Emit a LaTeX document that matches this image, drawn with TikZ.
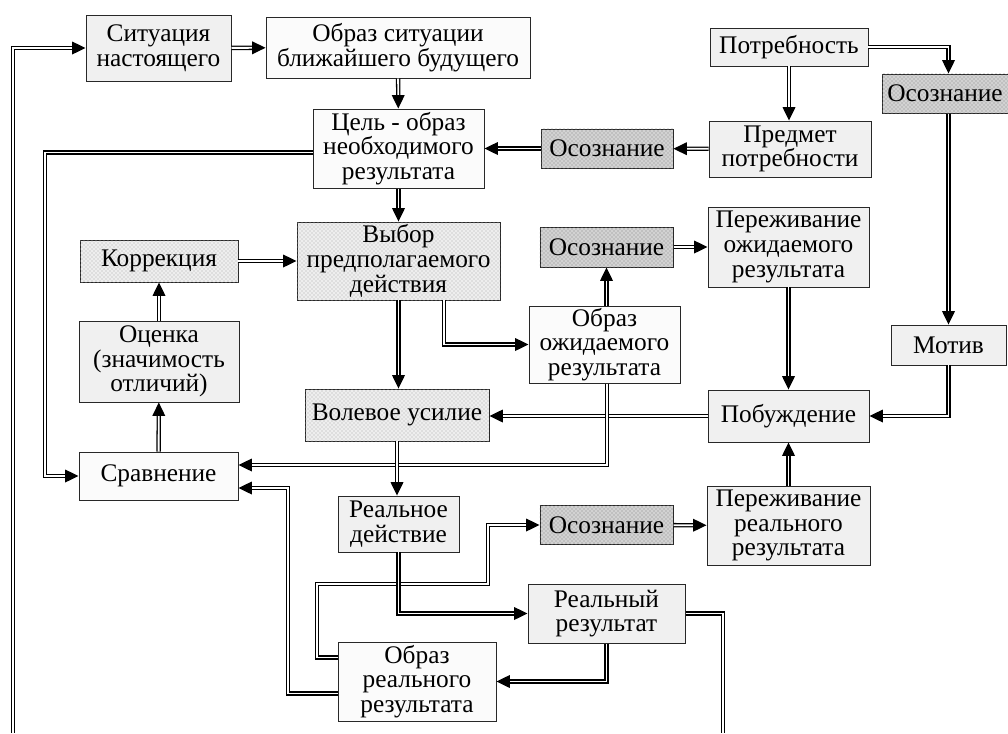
\documentclass[tikz,border=0pt]{standalone}
\usepackage{fontspec}
\setmainfont{Liberation Serif}
\usepackage{tikz}
\usetikzlibrary{arrows.meta}
\usetikzlibrary{patterns}

\tikzset{
  box/.style={draw={rgb, 255:red, 40; green, 40; blue, 40}, line width=0.7pt, align=center, inner sep=1pt, font=\fontsize{19}{18.5}\selectfont},
  wbox/.style={box, fill={rgb, 255:red, 251; green, 251; blue, 251}},
  gbox/.style={box, fill={rgb, 255:red, 240; green, 240; blue, 240}},
  pbox/.style={box, fill={rgb, 255:red, 238; green, 238; blue, 238}, postaction={pattern=crosshatch dots, pattern color={rgb, 255:red, 170; green, 170; blue, 170}}},
  obox/.style={box, fill={rgb, 255:red, 210; green, 210; blue, 210}, postaction={pattern=crosshatch dots, pattern color={rgb, 255:red, 135; green, 135; blue, 135}}},
  dbl/.style={double, double distance=1.4pt, line width=0.95pt, -{Triangle[length=10pt,width=9.5pt]}},
}

\begin{document}
\begin{tikzpicture}[x=0.75pt,y=0.75pt,yscale=-1,xscale=1]
\useasboundingbox (0,0) rectangle (1008,733);

% Text Nodes
\node[gbox, minimum width=108.8pt, minimum height=49.5pt] (sit) at (158.5,48) {Ситуация\\настоящего};
\node[wbox, minimum width=198pt, minimum height=45.8pt] (obrsit) at (398,47.5) {Образ ситуации\\ближайшего будущего};
\node[gbox, minimum width=118.5pt, minimum height=28.5pt] (potr) at (789,47) {Потребность};
\node[obox, minimum width=94.5pt, minimum height=29.3pt] (osozA) at (945,93.5) {Осознание};
\node[gbox, minimum width=121.5pt, minimum height=42pt] (predm) at (790,149) {Предмет\\потребности};
\node[obox, minimum width=99pt, minimum height=29.3pt] (osozB) at (607,148.5) {Осознание};
\node[wbox, minimum width=128.3pt, minimum height=59.3pt] (cel) at (398.5,148.5) {Цель - образ\\необходимого\\результата};
\node[pbox, minimum width=152.3pt, minimum height=58.5pt] (vybor) at (398.5,261) {Выбор\\предполагаемого\\действия};
\node[pbox, minimum width=118.5pt, minimum height=31.5pt] (korr) at (159,261) {Коррекция};
\node[gbox, minimum width=120pt, minimum height=60.8pt] (ocenka) at (159,361.5) {Оценка\\(значимость\\отличий)};
\node[wbox, minimum width=119.3pt, minimum height=36pt] (sravn) at (158.5,476) {Сравнение};
\node[pbox, minimum width=138pt, minimum height=39pt] (vol) at (397,415) {Волевое усилие};
\node[obox, minimum width=99.8pt, minimum height=30pt] (osozC) at (606.5,247) {Осознание};
\node[wbox, minimum width=113.3pt, minimum height=57.8pt] (obrozh) at (604.5,344.5) {Образ\\ожидаемого\\результата};
\node[gbox, minimum width=120.8pt, minimum height=60pt] (perozh) at (788.5,247) {Переживание\\ожидаемого\\результата};
\node[gbox, minimum width=86.3pt, minimum height=30pt] (motiv) at (948.5,345) {Мотив};
\node[gbox, minimum width=120.8pt, minimum height=39pt] (pobuzh) at (788.5,416) {Побуждение};
\node[gbox, minimum width=122.3pt, minimum height=59.3pt] (perreal) at (788.5,525.5) {Переживание\\реального\\результата};
\node[gbox, minimum width=90.8pt, minimum height=42pt] (realdej) at (398.5,524) {Реальное\\действие};
\node[obox, minimum width=99.8pt, minimum height=29.3pt] (osozD) at (606.5,525) {Осознание};
\node[gbox, minimum width=117.8pt, minimum height=44.3pt] (realres) at (606.5,613.5) {Реальный\\результат};
\node[wbox, minimum width=118.5pt, minimum height=59.3pt] (obrreal) at (417,681.5) {Образ\\реального\\результата};

% bends and free ends
\coordinate (loopL) at (13,733);
\coordinate (loopR) at (723,733);
\coordinate (lbend) at (45,476);
\coordinate (ubend) at (607,465);
\coordinate (ya) at (317,584);
\coordinate (yb) at (488,584);
\coordinate (za) at (288,488);

% Double arrows (yscale=-1: a positive yshift goes down)
\draw[dbl] (loopL) |- (sit.west);
\draw[dbl] (sit) -- (obrsit);
\draw[dbl] (obrsit) -- (cel);
\draw[dbl] (potr.east) -| (motiv.north |- osozA.north);
\draw[dbl] (potr.south) -- (potr.south |- predm.north);
\draw[dbl] (predm) -- (osozB);
\draw[dbl] (osozB) -- (cel);
\draw[dbl] ([yshift=3pt]cel.west) -| (lbend) -- (sravn.west);
\draw[dbl] (cel) -- (vybor);
\draw[dbl] (osozA.south -| motiv.north) -- (motiv.north);
\draw[dbl] (korr) -- (vybor);
\draw[dbl] (ocenka) -- (korr);
\draw[dbl] (sravn) -- (ocenka);
\draw[dbl] (444,0 |- vybor.south) |- (obrozh.west);
\draw[dbl] (osozC.south |- obrozh.north) -- (osozC.south);
\draw[dbl] (osozC) -- (perozh);
\draw[dbl] (perozh) -- (pobuzh);
\draw[dbl] (motiv.south) |- (pobuzh.east);
\draw[dbl] (pobuzh.west) -- (pobuzh.west -| vol.east);
\draw[dbl] (ubend |- obrozh.south) -- (ubend) -- (ubend -| sravn.east);
\draw[dbl] (vybor.south) -- (vybor.south |- vol.north);
\draw[dbl] (vol.south) -- (vol.south |- realdej.north);
\draw[dbl] ([yshift=-18pt]obrreal.west) -| (ya) -- (yb) |- (osozD.west);
\draw[dbl] (realdej.south) |- (realres.west);
\draw[dbl] (realres.south) |- (obrreal.east);
\draw[dbl] ([yshift=9pt]obrreal.west) -| (za) -- (za -| sravn.east);
\draw[dbl] (osozD) -- (perreal);
\draw[dbl] (perreal) -- (pobuzh);
\draw[dbl, -] (realres.east) -| (loopR);

\end{tikzpicture}
\end{document}
